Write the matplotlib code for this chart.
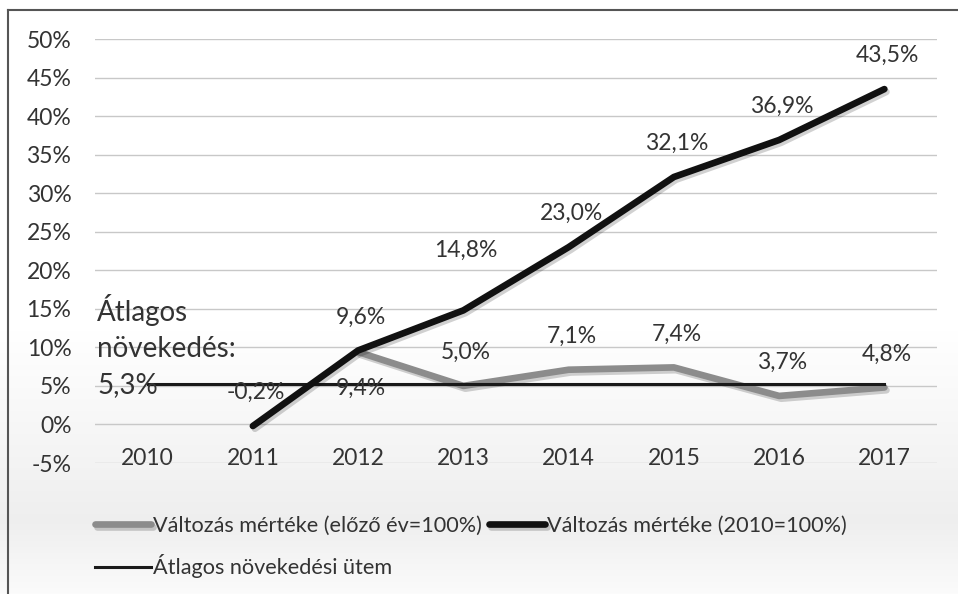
import matplotlib.pyplot as plt
import matplotlib.patheffects as pe
from matplotlib.lines import Line2D
import numpy as np

plt.rcParams['font.family'] = ['Lato', 'DejaVu Sans']

# data
evek = ['2010', '2011', '2012', '2013', '2014', '2015', '2016', '2017']
valtozas_elozo_ev = [np.nan, np.nan, 9.4, 5.0, 7.1, 7.4, 3.7, 4.8]
valtozas_2010 = [np.nan, -0.2, 9.6, 14.8, 23.0, 32.1, 36.9, 43.5]
atlagos_novekedes = 5.3
y_ticks = [-5, 0, 5, 10, 15, 20, 25, 30, 35, 40, 45, 50]

W, H = 958, 594
TXT = '#333333'
FS = 16.5

fig = plt.figure(figsize=(W / 100, H / 100), dpi=100)

# soft grey gradient behind the chart
bg = fig.add_axes([0, 0, 1, 1], zorder=-10)
rows = np.arange(H)
shade = np.interp(rows, [0, 330, 520, 594], [1.0, 1.0, 0.935, 0.985])
img = np.repeat(shade[:, None], 3, axis=1)[:, None, :]
bg.imshow(img, aspect='auto', extent=[0, 1, 0, 1], origin='upper')
bg.axis('off')

ax = fig.add_axes([95 / W, 1 - 463 / H, (937 - 95) / W, (463 - 39) / H])
ax.set_facecolor('none')

x = np.arange(len(evek))
shadow = [pe.SimpleLineShadow(offset=(1.5, -2), alpha=0.18, rho=0.0), pe.Normal()]

l_gray, = ax.plot(x, valtozas_elozo_ev, color='#8c8c8c', lw=4.8,
                  solid_capstyle='round', solid_joinstyle='round',
                  path_effects=shadow, zorder=3,
                  label='Változás mértéke (előző év=100%)')
l_avg, = ax.plot(x, [atlagos_novekedes] * len(evek), color='#1a1a1a', lw=2.2,
                 zorder=4, label='Átlagos növekedési ütem')
l_black, = ax.plot(x, valtozas_2010, color='#111111', lw=4.8,
                   solid_capstyle='round', solid_joinstyle='round',
                   path_effects=shadow, zorder=5,
                   label='Változás mértéke (2010=100%)')


def fmt(v):
    return f'{v:.1f}%'.replace('.', ',')


for i, v in enumerate(valtozas_2010):
    if np.isnan(v):
        continue
    dy = 43 if evek[i] == '2013' else 24
    ax.annotate(fmt(v), (x[i], v), xytext=(2, dy), textcoords='offset points',
                ha='center', va='center', fontsize=FS, color=TXT, zorder=6)

for i, v in enumerate(valtozas_elozo_ev):
    if np.isnan(v):
        continue
    dy = -26 if evek[i] == '2012' else 24
    ax.annotate(fmt(v), (x[i], v), xytext=(2, dy), textcoords='offset points',
                ha='center', va='center', fontsize=FS, color=TXT, zorder=6)

# average label, one line at a time above the average line
for sor, dy in zip(['Átlagos', 'növekedés:', fmt(atlagos_novekedes)], [53, 25, -1]):
    ax.annotate(sor, (-0.48, atlagos_novekedes), xytext=(0, dy),
                textcoords='offset points', ha='left', va='center',
                fontsize=20, color=TXT, zorder=6)

ax.set_xlim(-0.5, len(evek) - 0.5)
ax.set_ylim(-5, 50)
ax.set_yticks(y_ticks)
ax.set_yticklabels([f'{t}%' for t in y_ticks])
ax.set_xticks(x)
ax.set_xticklabels(evek)
ax.tick_params(axis='y', length=0, pad=17, labelsize=FS, labelcolor=TXT)
ax.tick_params(axis='x', length=0, pad=-11, labelsize=FS, labelcolor=TXT)
ax.grid(axis='y', color='#c8c8c8', lw=1)
ax.set_axisbelow(True)
for s in ax.spines.values():
    s.set_visible(False)

fig.legend(handles=[l_gray, l_avg, l_black], ncol=2, frameon=False,
           loc='upper left', bbox_to_anchor=(84 / W, 1 - 505 / H),
           fontsize=15.6, handlelength=2.6, handletextpad=0.1,
           columnspacing=0.3, labelspacing=0.85, borderpad=0,
           labelcolor=TXT)

# frame on the left and top, as in the reference
fig.add_artist(Line2D([8 / W, 8 / W], [0, 1 - 10 / H], transform=fig.transFigure,
                      color='#555555', lw=1.5))
fig.add_artist(Line2D([8 / W, 1], [1 - 10 / H, 1 - 10 / H], transform=fig.transFigure,
                      color='#555555', lw=1.5))

fig.savefig('out.png', dpi=100)
